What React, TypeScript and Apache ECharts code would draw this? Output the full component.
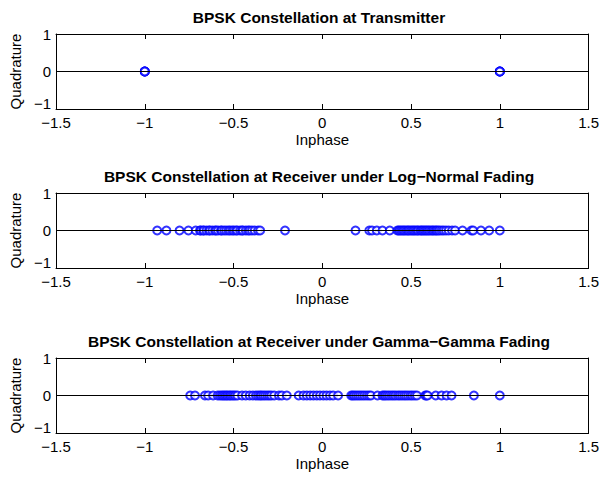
import React, { useEffect, useRef } from "react";
import * as echarts from "echarts";

// In-phase components of the received symbols (quadrature is zero for BPSK)
const txInphase = [-1, -1, -1, -1, 1, 1, 1, 1];

const logNormalInphase = [
  -0.93, -0.878, -0.804, -0.754, -0.713, -0.689, -0.684, -0.671, -0.667, -0.652,
  -0.638, -0.633, -0.619, -0.604, -0.598, -0.587, -0.571, -0.566, -0.553, -0.541,
  -0.528, -0.519, -0.507, -0.498, -0.486, -0.479, -0.463, -0.452, -0.447, -0.431,
  -0.418, -0.409, -0.396, -0.381, -0.362, -0.35, -0.21,
  0.187, 0.265, 0.28, 0.307, 0.339, 0.38, 0.423, 0.431, 0.438, 0.447, 0.455, 0.462,
  0.471, 0.479, 0.486, 0.494, 0.503, 0.511, 0.518, 0.527, 0.535, 0.541, 0.552,
  0.558, 0.566, 0.573, 0.581, 0.589, 0.596, 0.604, 0.613, 0.621, 0.628, 0.637,
  0.644, 0.652, 0.661, 0.673, 0.684, 0.697, 0.712, 0.731, 0.748, 0.79, 0.84,
  0.85, 0.894, 0.94, 1.0,
];

const gammaGammaInphase = [
  -0.744, -0.717, -0.661, -0.643, -0.615, -0.589, -0.577, -0.566, -0.558, -0.549,
  -0.541, -0.533, -0.524, -0.516, -0.507, -0.498, -0.489, -0.478, -0.452, -0.431,
  -0.409, -0.391, -0.374, -0.362, -0.351, -0.343, -0.332, -0.321, -0.309, -0.298,
  -0.287, -0.271, -0.244, -0.228, -0.2, -0.133, -0.106, -0.087, -0.068, -0.05,
  -0.031, -0.013, 0.006, 0.024, 0.043, 0.061, 0.089, 0.163, 0.172, 0.181, 0.192,
  0.203, 0.214, 0.226, 0.238, 0.251, 0.263, 0.274, 0.311, 0.339, 0.348, 0.357,
  0.368, 0.379, 0.391, 0.402, 0.413, 0.426, 0.437, 0.449, 0.461, 0.472, 0.484,
  0.497, 0.508, 0.521, 0.533, 0.58, 0.586, 0.593, 0.639, 0.672, 0.7, 0.728,
  0.854, 1.0,
];

const titles = [
  "BPSK Constellation at Transmitter",
  "BPSK Constellation at Receiver under Log\u2212Normal Fading",
  "BPSK Constellation at Receiver under Gamma\u2212Gamma Fading",
];
const xLabel = "Inphase";
const yLabel = "Quadrature";

const FONT = "Liberation Sans, Arial, Helvetica, sans-serif";
const PLOT_LEFT = 49;
const PLOT_WIDTH = 540;
const GRID_TOPS = [34, 193, 358];
const GRID_HEIGHT = 75;

const minus = (v: number) => String(v).replace("-", "\u2212");

export default function App() {
  const ref = useRef<HTMLDivElement>(null);

  useEffect(() => {
    if (!ref.current) return;
    const chart = echarts.init(ref.current, undefined, { renderer: "svg" });
    const sets = [txInphase, logNormalInphase, gammaGammaInphase];

    const grids: any[] = [];
    const xAxes: any[] = [];
    const yAxes: any[] = [];
    const series: any[] = [];
    const graphics: any[] = [];

    const axisLine = { show: true, onZero: false, lineStyle: { color: "#000", width: 1 } };
    const tick = { show: true, inside: true, length: 5, lineStyle: { color: "#000" } };
    const label = { color: "#000", fontSize: 15, fontFamily: FONT, formatter: minus };

    sets.forEach((xs, i) => {
      grids.push({ left: PLOT_LEFT, top: GRID_TOPS[i], width: PLOT_WIDTH, height: GRID_HEIGHT });
      xAxes.push(
        {
          type: "value", gridIndex: i, position: "bottom", min: -1.5, max: 1.5, interval: 0.5,
          axisLine, axisTick: tick, splitLine: { show: false },
          axisLabel: { ...label, margin: 7, lineHeight: 13 },
          name: xLabel, nameLocation: "middle", nameGap: 23,
          nameTextStyle: { color: "#000", fontSize: 15, fontFamily: FONT },
        },
        {
          type: "value", gridIndex: i, position: "top", min: -1.5, max: 1.5, interval: 0.5,
          axisLine, axisTick: tick, splitLine: { show: false }, axisLabel: { show: false },
        }
      );
      yAxes.push(
        {
          type: "value", gridIndex: i, position: "left", min: -1, max: 1, interval: 1,
          axisLine, axisTick: tick, splitLine: { show: false },
          axisLabel: { ...label, margin: 5, lineHeight: 11, verticalAlignMinLabel: "bottom" },
          name: yLabel, nameLocation: "middle", nameGap: 25,
          nameTextStyle: { color: "#000", fontSize: 15, fontFamily: FONT },
        },
        {
          type: "value", gridIndex: i, position: "right", min: -1, max: 1, interval: 1,
          axisLine, axisTick: tick, splitLine: { show: false }, axisLabel: { show: false },
        }
      );
      series.push({
        type: "scatter",
        xAxisIndex: i * 2,
        yAxisIndex: i * 2,
        data: xs.map((x) => [x, 0]),
        symbol: "emptyCircle",
        symbolSize: 8,
        itemStyle: { color: "#0000ff", borderColor: "#0000ff", borderWidth: i === 0 ? 1.8 : 1 },
        markLine: {
          silent: true,
          symbol: "none",
          label: { show: false },
          lineStyle: { color: "#000", width: 1, type: "solid" },
          data: [{ yAxis: 0 }],
        },
      });
      graphics.push({
        type: "text",
        x: PLOT_LEFT + PLOT_WIDTH / 2,
        y: GRID_TOPS[i] - 17,
        style: {
          text: titles[i],
          align: "center",
          verticalAlign: "middle",
          font: `bold 15.5px ${FONT}`,
          fill: "#000",
        },
      });
    });

    chart.setOption({
      animation: false,
      backgroundColor: "#fff",
      grid: grids,
      xAxis: xAxes,
      yAxis: yAxes,
      series,
      graphic: graphics,
    });
    return () => chart.dispose();
  }, []);

  return (
    <div
      ref={ref}
      style={{ position: "fixed", left: 0, top: 0, width: 602, height: 480 }}
    />
  );
}
